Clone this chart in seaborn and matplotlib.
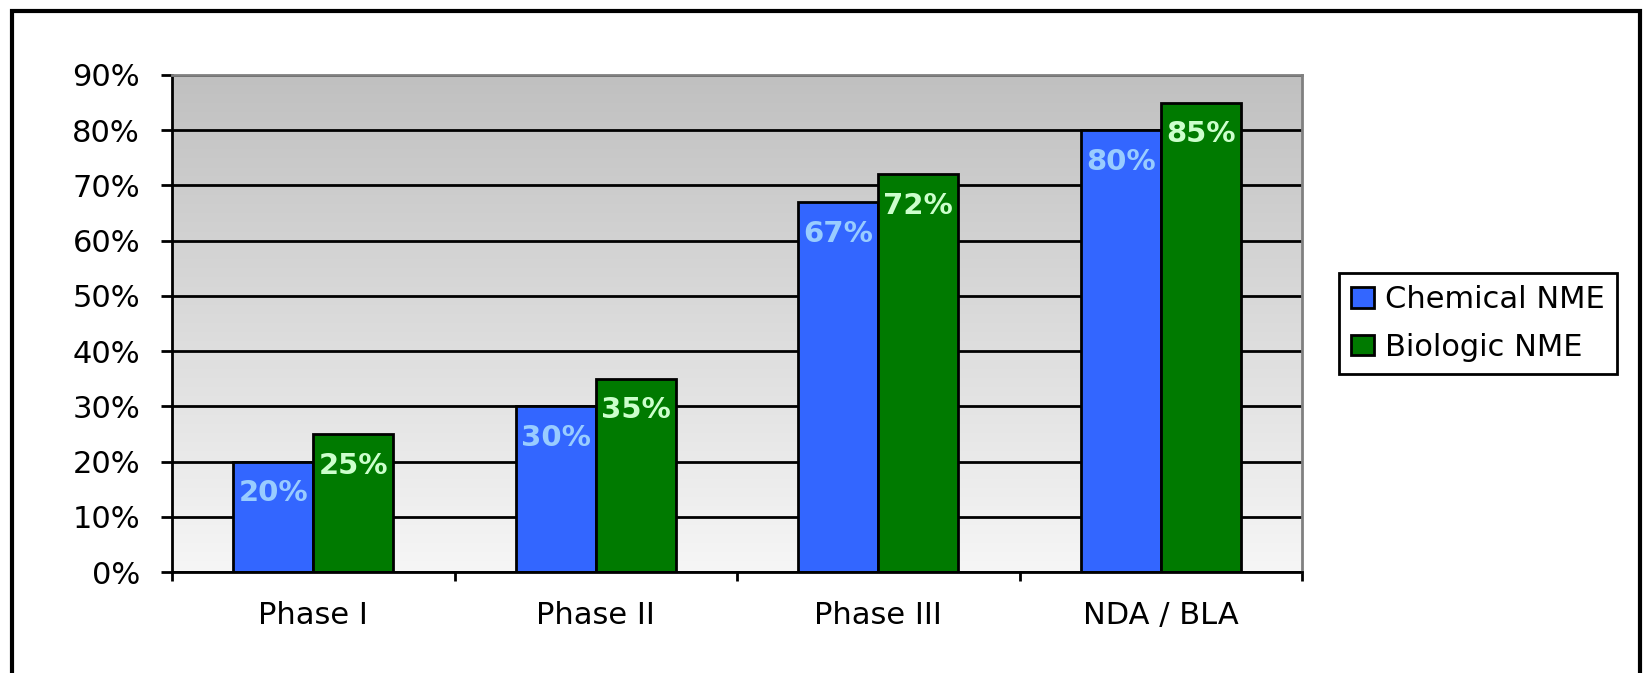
import numpy as np
import pandas as pd
import seaborn as sns
import matplotlib.pyplot as plt
from matplotlib.patches import Patch, Rectangle


phases = ['Phase I', 'Phase II', 'Phase III', 'NDA / BLA']
series = ['Chemical NME', 'Biologic NME']
chemical = [20, 30, 67, 80]
biologic = [25, 35, 72, 85]
yticks = [0, 10, 20, 30, 40, 50, 60, 70, 80, 90]

blue, green = '#3366FF', '#007A00'
label_colors = ['#99CCFF', '#CCFFCC']

df = pd.DataFrame({
    'phase': phases * 2,
    'series': [series[0]] * 4 + [series[1]] * 4,
    'value': chemical + biologic,
})

fig = plt.figure(figsize=(16.44, 6.73), dpi=100)
ax = fig.add_axes([172 / 1644, 1 - 572 / 673, 1130 / 1644, 497 / 673])

# grey-to-white gradient behind the plot area
grad = np.linspace(0.753, 0.965, 256).reshape(-1, 1)
ax.imshow(np.dstack([grad, grad, grad]), extent=[0, 1, 0, 1], transform=ax.transAxes,
          aspect='auto', origin='upper', zorder=0)

sns.barplot(data=df, x='phase', y='value', hue='series', order=phases, hue_order=series,
            palette=[blue, green], saturation=1, width=0.566, gap=0,
            edgecolor='black', linewidth=2, legend=False, ax=ax)

for cont, vals, col in zip(ax.containers, [chemical, biologic], label_colors):
    for bar, v in zip(cont, vals):
        ax.annotate(f'{v}%', (bar.get_x() + bar.get_width() / 2, bar.get_height()),
                    xytext=(0, -28.5), textcoords='offset points', ha='center', va='baseline',
                    color=col, fontsize=21, fontweight='bold')

ax.set_xlim(-0.5, 3.5)
ax.set_ylim(0, 90)
ax.set_axisbelow(True)
ax.yaxis.grid(True, color='black', linewidth=2)
ax.set_yticks(yticks)
ax.set_yticklabels([f'{v}%' for v in yticks], fontsize=22)
ax.set_xticks(np.arange(-0.5, 4, 1))
ax.set_xticklabels([])
ax.set_xticks(range(4), minor=True)
ax.set_xticklabels(phases, minor=True, fontsize=22)
ax.tick_params(axis='y', length=8, width=2, pad=15)
ax.tick_params(axis='x', which='major', length=6.5, width=2)
ax.tick_params(axis='x', which='minor', length=0, pad=21)
ax.set_xlabel('')
ax.set_ylabel('')

for side in ['left', 'bottom']:
    ax.spines[side].set_color('black')
    ax.spines[side].set_linewidth(2)
for side in ['top', 'right']:
    ax.spines[side].set_color('#808080')
    ax.spines[side].set_linewidth(2)

handles = [Patch(facecolor=blue, edgecolor='black', linewidth=2),
           Patch(facecolor=green, edgecolor='black', linewidth=2)]
leg = fig.legend(handles, series, loc='center left', bbox_to_anchor=(1339 / 1644, 1 - 323.5 / 673),
                 frameon=True, fancybox=False, edgecolor='black', framealpha=1, fontsize=22,
                 handlelength=0.75, handleheight=0.65, handletextpad=0.35, labelspacing=0.6,
                 borderpad=0.4, borderaxespad=0)
leg.get_frame().set_linewidth(2)

# outer chart border
fig.add_artist(Rectangle((12 / 1644, -0.1), 1628 / 1644, 1.1 - 11 / 673, fill=False,
                         edgecolor='black', linewidth=3, transform=fig.transFigure, clip_on=False))

fig.savefig('out.png', dpi=100)
